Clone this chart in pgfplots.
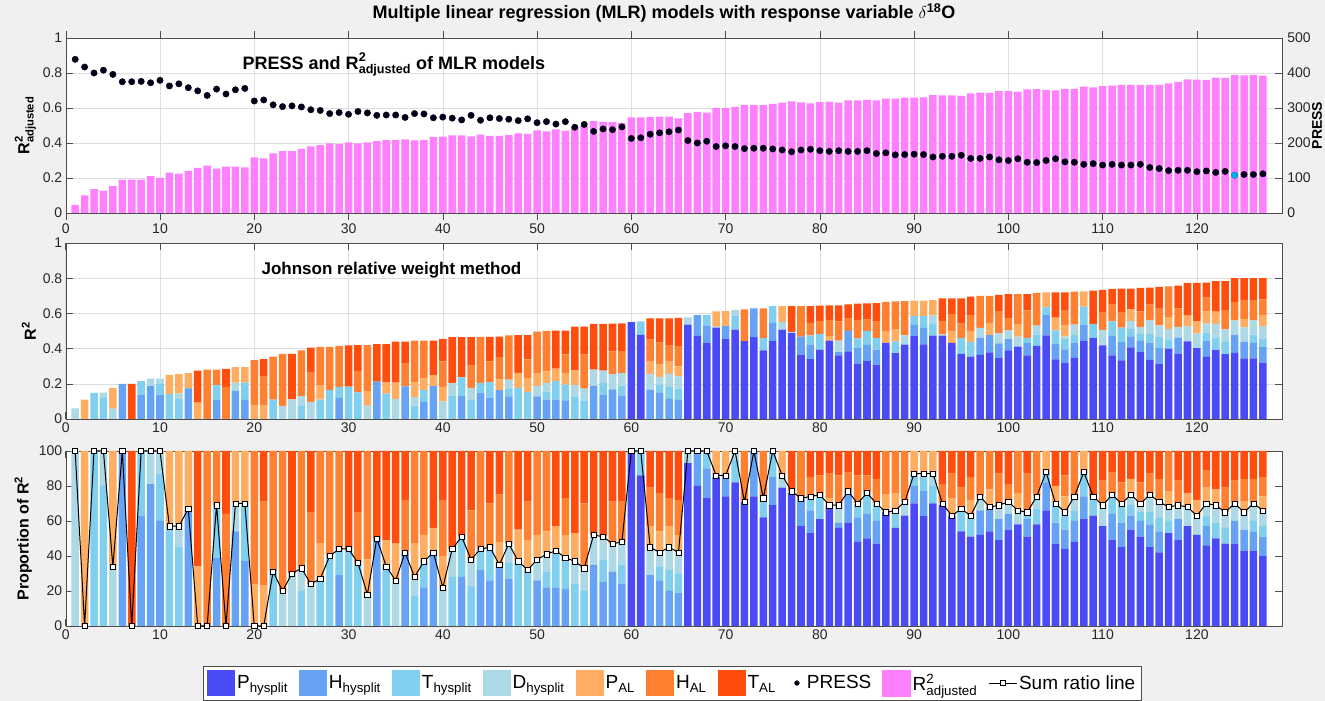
\documentclass[border=0pt]{standalone}
\usepackage{fontspec}
\setmainfont{Liberation Sans}
\usepackage{amsmath}
\usepackage{pgfplots}
\usepackage{pgfplotstable}
\pgfplotsset{compat=1.18}
\definecolor{cPh}{RGB}{75,75,245}
\definecolor{cHh}{RGB}{102,163,245}
\definecolor{cTh}{RGB}{128,207,238}
\definecolor{cDh}{RGB}{173,216,230}
\definecolor{cPa}{RGB}{255,173,96}
\definecolor{cHa}{RGB}{255,128,48}
\definecolor{cTa}{RGB}{255,77,13}
\definecolor{cR}{RGB}{255,128,255}
\definecolor{bg}{RGB}{240,240,240}
\definecolor{press}{RGB}{0,0,25}
\pgfplotstableread{
n R2adj PRESS R2 Ph Hh Th Dh Pa Ha Ta
1 0.046 439 0.060 0 0 0 100 0 0 0
2 0.100 417 0.110 0 0 0 0 100 0 0
3 0.136 400 0.148 0 0 100 0 0 0 0
4 0.128 408 0.150 0 0 80 20 0 0 0
5 0.153 396 0.175 0 0 0 34 66 0 0
6 0.190 375 0.200 0 100 0 0 0 0 0
7 0.190 375 0.200 0 0 0 0 0 0 100
8 0.190 376 0.215 0 63 37 0 0 0 0
9 0.210 372 0.230 0 81 0 19 0 0 0
10 0.200 379 0.230 0 60 27 13 0 0 0
11 0.230 363 0.250 0 0 57 0 43 0 0
12 0.225 369 0.255 0 0 45 12 43 0 0
13 0.240 358 0.260 0 67 0 0 33 0 0
14 0.258 349 0.275 0 0 0 0 34 0 66
15 0.270 336 0.280 0 0 0 0 0 100 0
16 0.253 354 0.280 0 39 30 0 0 31 0
17 0.265 340 0.285 0 0 0 0 0 64 36
18 0.265 352 0.295 0 54 0 16 30 0 0
19 0.260 356 0.295 0 37 33 0 30 0 0
20 0.318 320 0.335 0 0 0 0 24 76 0
21 0.312 323 0.340 0 0 0 0 23 48 29
22 0.340 309 0.355 0 0 31 0 0 69 0
23 0.354 304 0.370 0 0 0 20 0 80 0
24 0.354 306 0.370 0 0 0 30 0 0 70
25 0.366 303 0.390 0 0 20 13 0 67 0
26 0.380 295 0.405 0 0 0 24 0 41 35
27 0.388 293 0.410 0 0 27 0 20 53 0
28 0.398 284 0.410 0 0 40 0 0 60 0
29 0.393 287 0.415 0 29 15 0 0 56 0
30 0.404 282 0.418 0 0 44 0 0 0 56
31 0.398 290 0.420 0 0 36 0 0 29 35
32 0.404 286 0.420 0 0 0 18 20 62 0
33 0.410 279 0.425 0 50 0 0 0 0 50
34 0.416 280 0.425 0 0 34 0 15 0 51
35 0.416 280 0.440 0 0 0 26 21 0 53
36 0.420 273 0.440 0 42 0 0 0 30 28
37 0.415 284 0.445 0 0 17 11 19 53 0
38 0.416 283 0.445 0 22 15 0 15 48 0
39 0.434 272 0.445 0 42 0 0 14 0 44
40 0.436 274 0.455 0 0 0 22 18 32 28
41 0.444 271 0.465 0 0 28 16 0 0 56
42 0.444 266 0.465 0 28 23 0 0 0 49
43 0.438 279 0.465 0 0 23 15 0 28 34
44 0.448 265 0.467 0 32 12 0 0 56 0
45 0.440 272 0.467 0 26 19 0 0 25 30
46 0.440 270 0.468 0 35 0 0 13 27 25
47 0.447 268 0.475 0 27 9 11 0 53 0
48 0.455 264 0.477 0 0 37 0 18 0 45
49 0.452 269 0.477 0 0 32 0 17 22 29
50 0.472 258 0.497 0 26 0 12 14 48 0
51 0.467 261 0.500 0 22 9 10 13 46 0
52 0.478 254 0.502 0 22 21 0 14 0 43
53 0.470 261 0.502 0 21 18 0 13 21 27
54 0.492 245 0.525 0 0 24 13 16 0 47
55 0.496 253 0.525 0 0 20 13 0 37 30
56 0.525 233 0.540 0 35 0 17 0 0 48
57 0.520 240 0.540 0 25 13 13 0 0 49
58 0.520 238 0.542 0 31 0 16 0 24 29
59 0.515 246 0.543 0 24 11 13 0 23 29
60 0.547 213 0.550 100 0 0 0 0 0 0
61 0.547 215 0.555 86 0 14 0 0 0 0
62 0.548 225 0.571 0 29 0 16 12 22 21
63 0.550 229 0.571 0 26 8 8 12 22 24
64 0.550 232 0.571 0 20 12 13 12 16 27
65 0.540 237 0.575 0 19 11 12 10 20 28
66 0.571 207 0.577 93 0 0 7 0 0 0
67 0.578 200 0.590 80 20 0 0 0 0 0
68 0.573 205 0.590 73 17 10 0 0 0 0
69 0.600 190 0.611 85 0 0 1 14 0 0
70 0.600 192 0.613 74 12 0 0 14 0 0
71 0.607 190 0.619 82 0 13 5 0 0 0
72 0.617 184 0.623 71 0 0 0 0 29 0
73 0.617 185 0.629 74 26 0 0 0 0 0
74 0.617 185 0.629 62 0 11 0 0 27 0
75 0.623 183 0.642 69 16 15 0 0 0 0
76 0.630 180 0.642 79 0 0 7 14 0 0
77 0.638 175 0.642 76 0 0 1 0 0 23
78 0.632 180 0.642 57 16 0 0 0 27 0
79 0.626 182 0.642 53 13 8 0 0 11 15
80 0.634 178 0.644 61 0 14 0 0 11 14
81 0.636 176 0.645 69 0 0 0 4 14 13
82 0.630 178 0.645 56 3 0 10 0 17 14
83 0.644 176 0.651 59 18 0 0 0 11 12
84 0.644 176 0.655 48 14 8 0 0 16 14
85 0.646 178 0.657 50 14 12 0 0 10 14
86 0.644 170 0.658 47 13 10 0 0 14 16
87 0.653 172 0.665 65 0 0 0 10 25 0
88 0.653 166 0.669 56 0 10 0 10 24 0
89 0.659 167 0.670 63 0 0 8 0 29 0
90 0.659 168 0.672 70 10 7 0 13 0 0
91 0.661 167 0.673 63 14 10 0 13 0 0
92 0.674 160 0.676 70 0 10 7 13 0 0
93 0.672 162 0.686 69 0 0 1 0 11 19
94 0.672 162 0.686 63 0 0 0 10 14 13
95 0.669 165 0.686 54 0 13 0 0 12 21
96 0.684 156 0.695 51 0 12 0 9 13 15
97 0.688 156 0.700 52 14 0 8 0 26 0
98 0.686 160 0.700 54 14 0 0 10 22 0
99 0.697 152 0.705 49 12 0 8 0 18 13
100 0.697 150 0.709 55 9 0 7 0 10 19
101 0.693 155 0.709 58 0 0 8 10 24 0
102 0.707 145 0.709 51 10 4 0 0 22 13
103 0.708 144 0.716 58 0 9 7 0 26 0
104 0.704 150 0.720 66 16 6 0 12 0 0
105 0.700 155 0.720 47 12 11 0 10 0 20
106 0.709 146 0.720 44 11 8 2 9 12 14
107 0.709 145 0.724 48 12 6 8 0 26 0
108 0.722 139 0.725 61 13 14 0 12 0 0
109 0.718 141 0.730 63 0 11 0 0 0 26
110 0.725 137 0.733 57 0 0 12 0 14 17
111 0.728 139 0.739 49 15 11 0 0 13 12
112 0.732 137 0.741 45 14 11 0 0 12 18
113 0.732 137 0.741 55 8 6 6 9 0 16
114 0.732 139 0.745 51 9 5 5 0 12 18
115 0.732 130 0.747 45 13 7 10 0 12 13
116 0.732 127 0.750 42 12 8 9 0 13 16
117 0.741 121 0.754 53 0 7 8 9 23 0
118 0.749 122 0.758 49 12 0 8 0 14 17
119 0.764 122 0.773 57 0 0 11 8 0 24
120 0.762 118 0.773 52 0 0 11 9 0 28
121 0.760 120 0.775 46 11 6 7 9 10 11
122 0.774 116 0.783 50 0 9 10 9 0 22
123 0.772 119 0.783 47 0 9 9 0 14 21
124 0.789 108 0.800 47 13 0 10 0 13 17
125 0.787 110 0.800 43 12 0 10 6 13 16
126 0.789 110 0.800 43 11 6 10 0 14 16
127 0.785 112 0.800 40 11 6 9 8 11 15
}\data
\pgfplotsset{
  base/.style={
    scale only axis, width=1216pt, height=175pt,
    xmin=0, xmax=129, xtick={0,10,...,120},
    tick align=inside, major tick length=7pt,
    ticklabel style={font=\fontsize{14}{16}\selectfont, text=black!85},
    /pgf/number format/assume math mode=true,
    axis line style={black!70}, tick style={black!70, line width=0.5pt},
    label style={font=\fontsize{16}{18}\selectfont\bfseries},
    major grid style={black!13, line width=0.5pt},
  },
  sw/.style={legend image code/.code={\fill[##1] (0pt,-13pt) rectangle (28pt,13pt);}},
}
\begin{document}
\begin{tikzpicture}
\fill[bg] (0pt,0pt) rectangle (1325pt,701pt);
\path[use as bounding box] (0pt,0pt) rectangle (1325pt,701pt);
\node[font=\fontsize{18}{20}\selectfont\bfseries] at (664pt,688pt) {Multiple linear regression (MLR) models with response variable $\delta$\textsuperscript{18}O};
\node[rotate=90, inner sep=0pt, font=\fontsize{14}{16}\selectfont\bfseries] at (1317pt,575.5pt) {PRESS};

% ---------- panel 1 ----------
\begin{axis}[base, at={(65.75pt,488pt)}, anchor=south west, axis background/.style={fill=white},
  grid=major, ybar, bar width=0.8, ymin=0, ymax=1, ytick={0,0.2,...,1}, ytick pos=left,
  ylabel={$\text{R}^{\text{2}}_{\text{adjusted}}$}]
\addplot[fill=cR, draw=none] table[x=n, y=R2adj]{\data};
\node[anchor=west, font=\fontsize{18}{20}\selectfont\bfseries] at (axis cs:18.4,0.85) {PRESS and $\text{R}^{\text{2}}_{\text{adjusted}}$ of MLR models};
\end{axis}
\begin{axis}[base, at={(65.75pt,488pt)}, anchor=south west, axis x line=none, axis y line*=right,
  ymin=0, ymax=500, ytick={0,100,...,500},
  yticklabel style={xshift=2pt}]
\addplot[only marks, mark=*, mark size=3.2pt, press] table[x=n, y=PRESS]{\data};
\addplot[only marks, mark=*, mark size=3.2pt, cyan] coordinates {(124,108)};
\end{axis}

% ---------- panel 2 ----------
\begin{axis}[base, at={(65.75pt,282pt)}, anchor=south west, height=176pt, axis background/.style={fill=white},
  grid=major, ybar stacked, bar width=0.8, ymin=0, ymax=1, ytick={0,0.2,...,1},
  ylabel={R\textsuperscript{2}}]
\addplot[fill=cPh, draw=none] table[x=n, y expr=\thisrow{Ph}*\thisrow{R2}/100]{\data};
\addplot[fill=cHh, draw=none] table[x=n, y expr=\thisrow{Hh}*\thisrow{R2}/100]{\data};
\addplot[fill=cTh, draw=none] table[x=n, y expr=\thisrow{Th}*\thisrow{R2}/100]{\data};
\addplot[fill=cDh, draw=none] table[x=n, y expr=\thisrow{Dh}*\thisrow{R2}/100]{\data};
\addplot[fill=cPa, draw=none] table[x=n, y expr=\thisrow{Pa}*\thisrow{R2}/100]{\data};
\addplot[fill=cHa, draw=none] table[x=n, y expr=\thisrow{Ha}*\thisrow{R2}/100]{\data};
\addplot[fill=cTa, draw=none] table[x=n, y expr=\thisrow{Ta}*\thisrow{R2}/100]{\data};
\node[anchor=west, font=\fontsize{17}{19}\selectfont\bfseries] at (axis cs:20.4,0.845) {Johnson relative weight method};
\end{axis}

% ---------- panel 3 ----------
\begin{axis}[base, at={(65.75pt,75pt)}, anchor=south west, axis background/.style={fill=white},
  ybar stacked, bar width=0.8, ymin=0, ymax=100, ytick={0,20,...,100},
  ylabel={Proportion of R\textsuperscript{2}},
  legend columns=10,
  legend style={at={(0.4987,-0.326)}, anchor=center, draw=black!70, fill=white,
    font=\fontsize{19}{21}\selectfont, inner sep=4pt,
    /tikz/every even column/.append style={column sep=9pt}},
  legend cell align=left]
\addplot[sw, fill=cPh, draw=none] table[x=n, y=Ph]{\data};
\addplot[sw, fill=cHh, draw=none] table[x=n, y=Hh]{\data};
\addplot[sw, fill=cTh, draw=none] table[x=n, y=Th]{\data};
\addplot[sw, fill=cDh, draw=none] table[x=n, y=Dh]{\data};
\addplot[sw, fill=cPa, draw=none] table[x=n, y=Pa]{\data};
\addplot[sw, fill=cHa, draw=none] table[x=n, y=Ha]{\data};
\addplot[sw, fill=cTa, draw=none] table[x=n, y=Ta]{\data};
\addlegendimage{legend image code/.code={\path[draw=none, fill=none] (0pt,-1pt) rectangle (18pt,1pt); \fill[press] (10pt,0pt) circle (2.4pt);}}
\addlegendimage{legend image code/.code={\fill[cR] (0pt,-13pt) rectangle (28pt,13pt);}}
\addlegendimage{legend image code/.code={\draw[black, line width=0.8pt] (0pt,0pt) -- (28pt,0pt); \draw[black, fill=white, line width=0.6pt] (11.5pt,-2.5pt) rectangle (16.5pt,2.5pt);}}
\legend{$\text{P}_{\text{hysplit}}$, $\text{H}_{\text{hysplit}}$, $\text{T}_{\text{hysplit}}$, $\text{D}_{\text{hysplit}}$, $\text{P}_{\text{AL}}$, $\text{H}_{\text{AL}}$, $\text{T}_{\text{AL}}$, PRESS, $\text{R}^{\text{2}}_{\text{adjusted}}$, Sum ratio line}
\end{axis}
\begin{axis}[base, at={(65.75pt,75pt)}, anchor=south west, hide axis, ymin=0, ymax=100, clip=false]
\addplot[black, line width=1pt, mark=square*, mark size=2.6pt, mark options={fill=white, draw=black, line width=0.6pt}]
  table[x=n, y expr=\thisrow{Ph}+\thisrow{Hh}+\thisrow{Th}+\thisrow{Dh}]{\data};
\end{axis}
\end{tikzpicture}
\end{document}
